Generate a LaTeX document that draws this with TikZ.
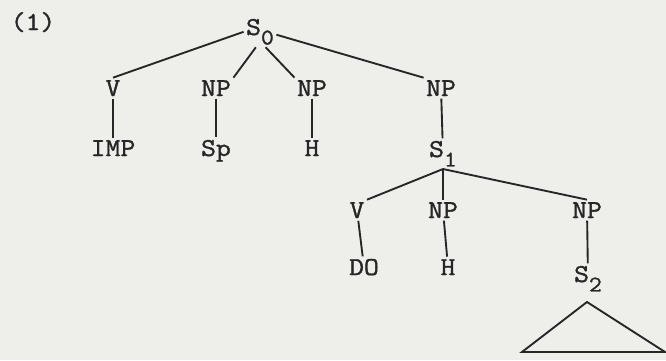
\documentclass[tikz,border=0pt]{standalone}
\usepackage{fontspec}
\newfontfamily\treefont{Latin Modern Mono}[FakeStretch=1.12,FakeBold=1.2]
\usetikzlibrary{positioning}
\definecolor{paper}{RGB}{238,238,235}
\definecolor{ink}{RGB}{38,38,38}
\newcommand{\sub}[1]{\raisebox{-0.85ex}{\fontsize{19}{19}\selectfont #1}}
\tikzset{%
	font=\treefont\fontsize{22}{22}\selectfont,
	cat/.style={anchor=base,inner sep=2pt,text=ink},
	branch/.style={draw=ink,line width=1.6pt}
}

\begin{document}
\begin{tikzpicture}[x=0.03cm,y=-0.03cm]
	\fill[paper] (0,0) rectangle (666,360);
	\useasboundingbox (0,0) rectangle (666,360);
	\node[cat] (num) at (33,30) {(1)};

	% upper clause
	\node[cat] (s0) at (260,35) {S\sub{0}};
	\node[cat] (v1) at (113,96) {V};
	\node[cat] (np1) at (216,96) {NP};
	\node[cat] (np2) at (312,96) {NP};
	\node[cat] (np3) at (441,96) {NP};
	\node[cat] (imp) at (113,156) {IMP};
	\node[cat] (sp) at (216,156) {Sp};
	\node[cat] (h1) at (312,156) {H};
	\node[cat] (s1) at (443,157) {S\sub{1}};

	% embedded clause
	\node[cat] (v2) at (357,218) {V};
	\node[cat] (np4) at (443,218) {NP};
	\node[cat] (np5) at (587,218) {NP};
	\node[cat] (do) at (364,275) {DO};
	\node[cat] (h2) at (448,275) {H};
	\node[cat] (s2) at (588,282) {S\sub{2}};
	\coordinate (apex) at (587,302);

	\draw[branch] (s0.west) -- (v1.north);
	\draw[branch] (s0.-105) -- (np1.north east);
	\draw[branch] (s0.-70) -- (np2.north west);
	\draw[branch] (s0.-10) -- (np3.north west);
	\draw[branch] (v1) -- (imp);
	\draw[branch] (np1) -- (sp);
	\draw[branch] (np2) -- (h1);
	\draw[branch] (np3) -- (s1);

	\draw[branch] (s1.south) -- (v2.north east);
	\draw[branch] (s1.south) -- (np4.north);
	\draw[branch] (s1.south) -- (np5.north);
	\draw[branch] (v2) -- (do);
	\draw[branch] (np4) -- (h2);
	\draw[branch] (np5) -- (s2);
	\draw[branch] (apex) -- ++(-65,50) -- ++(143,0) -- cycle;
\end{tikzpicture}
\end{document}
